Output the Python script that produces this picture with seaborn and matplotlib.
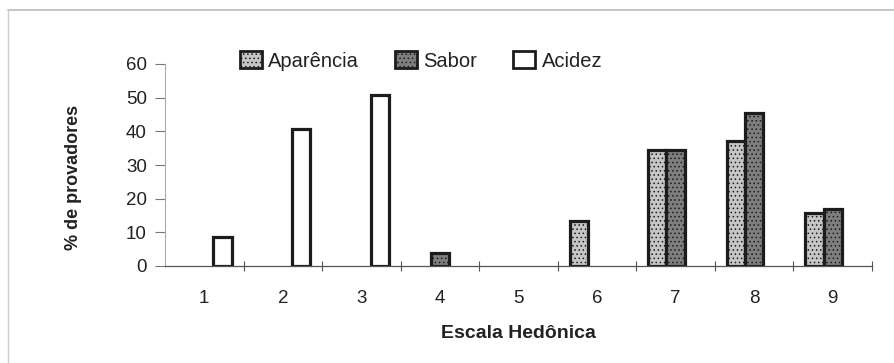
import matplotlib
matplotlib.use("Agg")
import matplotlib.pyplot as plt
from matplotlib.patches import Patch
from matplotlib.lines import Line2D
from matplotlib import font_manager
import seaborn as sns
import pandas as pd

# Hedonic scale points and percentage of panelists per attribute
escala = ["1", "2", "3", "4", "5", "6", "7", "8", "9"]
aparencia = [0, 0, 0, 0, 0, 13.5, 34.5, 37.0, 15.6]
sabor = [0, 0, 0, 4.0, 0, 0, 34.5, 45.4, 16.9]
acidez = [8.6, 40.6, 50.8, 0, 0, 0, 0, 0, 0]
series = ["Aparência", "Sabor", "Acidez"]
y_ticks = [0, 10, 20, 30, 40, 50, 60]

sns.set_theme(style="white")
names = {f.name for f in font_manager.fontManager.ttflist}
narrow = "Liberation Sans Narrow" if "Liberation Sans Narrow" in names else "Liberation Sans"
plt.rcParams["font.family"] = ["Liberation Sans", "DejaVu Sans"]
plt.rcParams["hatch.linewidth"] = 0.6

rows = []
for s, vals in zip(series, [aparencia, sabor, acidez]):
    for e, v in zip(escala, vals):
        if v > 0:
            rows.append({"escala": e, "serie": s, "pct": v})
df = pd.DataFrame(rows)

fills = {"Aparência": "#c6c6c6", "Sabor": "#7e7e7e", "Acidez": "#ffffff"}
hatches = {"Aparência": "....", "Sabor": "....", "Acidez": ""}
edge = "#1c1c1c"
text_c = "#222222"

fig = plt.figure(figsize=(8.95, 3.63), dpi=100)
ax = fig.add_axes([165 / 895, 1 - 266 / 363, 707 / 895, 202 / 363])

sns.barplot(data=df, x="escala", y="pct", hue="serie", order=escala,
            hue_order=series, palette=fills, width=0.7, dodge=True,
            edgecolor=edge, linewidth=2.3, saturation=1, legend=False,
            errorbar=None, ax=ax)

for cont, s in zip(ax.containers, series):
    for p in cont.patches:
        p.set_hatch(hatches[s])

ax.set_xlim(-0.5, 8.5)
ax.set_ylim(0, 60)
ax.set_yticks(y_ticks)
ax.set_yticklabels([str(v) for v in y_ticks], fontsize=13.5, color=text_c)
ax.set_xticks(range(len(escala)))
ax.set_xticklabels(escala, fontsize=13.5, color=text_c, family=[narrow, "DejaVu Sans"])
ax.set_xticks([i + 0.5 for i in range(len(escala))], minor=True)
ax.tick_params(axis="x", which="major", length=0, pad=17)
ax.tick_params(axis="x", which="minor", length=7, width=0.8, color="#555555",
               direction="inout", bottom=True)
ax.tick_params(axis="y", which="major", length=7, width=0.8, color="#777777",
               direction="out", left=True, pad=6)

for side in ["top", "right"]:
    ax.spines[side].set_visible(False)
ax.spines["left"].set_color("#aaaaaa")
ax.spines["left"].set_linewidth(0.8)
ax.spines["bottom"].set_color("#555555")
ax.spines["bottom"].set_linewidth(0.9)
ax.grid(False)

ax.set_xlabel("Escala Hedônica", fontsize=14, fontweight="bold", color=text_c)
ax.xaxis.set_label_coords(0.5, -0.29)
ax.xaxis.label.set_va("top")
ax.set_ylabel("% de provadores", fontsize=13, fontweight="bold", color=text_c)
ax.yaxis.set_label_coords(-0.130, 0.44)
ax.yaxis.label.set_va("center")

handles = [Patch(facecolor=fills[s], edgecolor=edge, hatch=hatches[s], linewidth=2.0, label=s)
           for s in series]
leg = ax.legend(handles=handles, loc="center", bbox_to_anchor=(0.362, 1.015), ncol=3,
                frameon=False, handlelength=1.1, handleheight=0.9, handletextpad=0.3,
                columnspacing=1.8, fontsize=14.5)
for t in leg.get_texts():
    t.set_color(text_c)

# light border around the chart area
fig.add_artist(Line2D([8 / 895, 1.0], [1 - 10 / 363] * 2, color="#bbbbbb", lw=1.2))
fig.add_artist(Line2D([8 / 895] * 2, [1 - 10 / 363, 0.0], color="#cccccc", lw=1.0))

fig.savefig("out.png", dpi=100)
